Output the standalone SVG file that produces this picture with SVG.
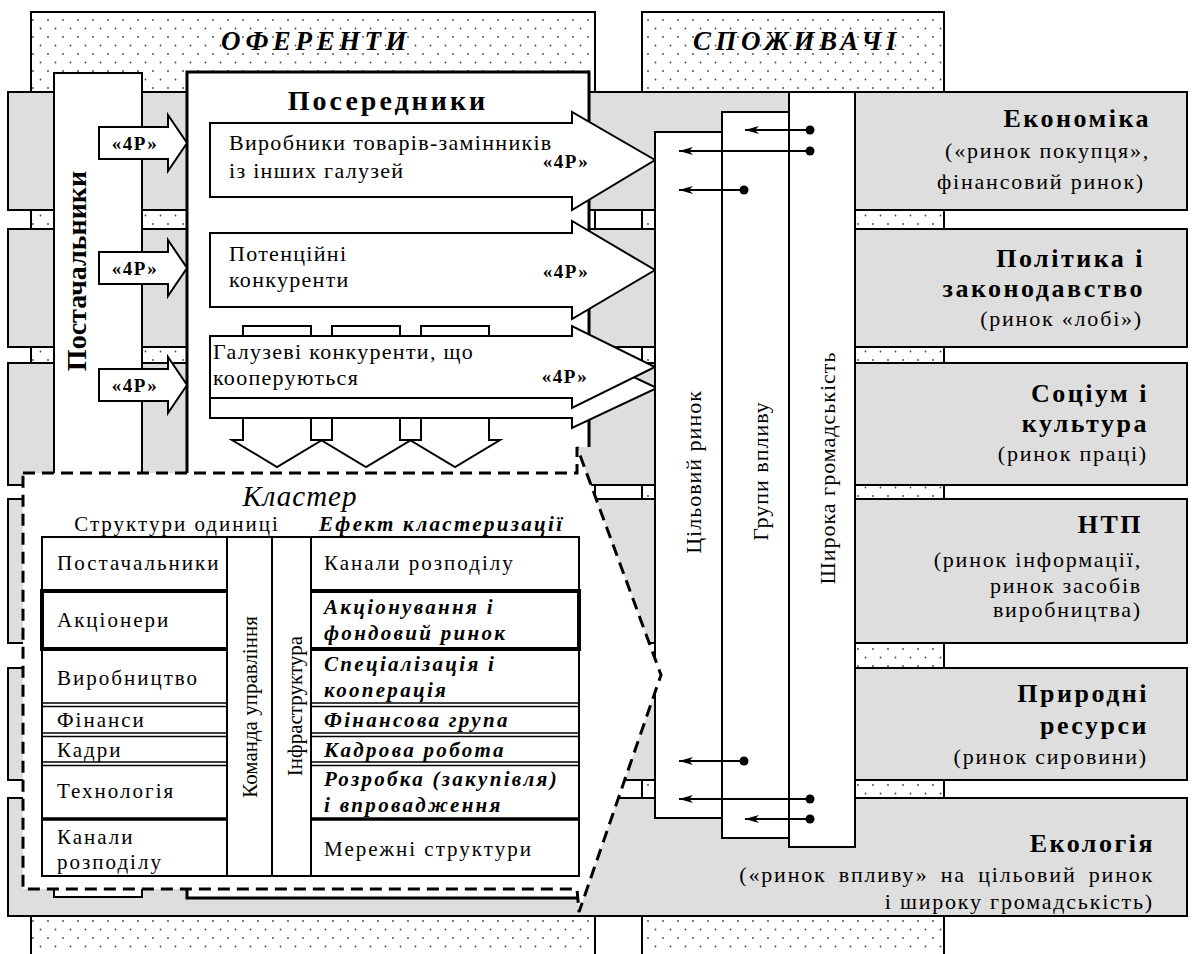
<svg xmlns="http://www.w3.org/2000/svg" width="1192" height="954" viewBox="0 0 1192 954" font-family="'Liberation Serif', Tinos, 'Times New Roman', 'DejaVu Serif', serif">
<defs>
<pattern id="dots" width="15" height="17" patternUnits="userSpaceOnUse">
<rect width="15" height="17" fill="#fff"/>
<circle cx="3" cy="3" r="0.9" fill="#444"/>
<circle cx="10.5" cy="11.5" r="0.9" fill="#444"/>
</pattern>
<marker id="ah" markerWidth="16" markerHeight="10" refX="14" refY="4" orient="auto" markerUnits="userSpaceOnUse">
<path d="M0,0 L14,4 L0,8 L4,4 Z" fill="#000"/>
</marker>
<style>
text{font-family:'Liberation Serif', Tinos, 'Times New Roman', 'DejaVu Serif', serif;fill:#000}
.ttl{font-size:27px;font-weight:bold;font-style:italic;letter-spacing:4.5px}
.hd{font-size:26px;font-weight:bold;letter-spacing:2.5px}
.sub{font-size:22px;letter-spacing:1.8px}
.arr{font-size:22px;letter-spacing:1.3px}
.p4{font-size:19px;font-weight:bold;letter-spacing:1.5px}
.tb{font-size:21px;letter-spacing:2px}
.tbi{font-size:21px;font-weight:bold;font-style:italic;letter-spacing:2.3px}
.vt{font-size:21px}
.col{font-size:22px;letter-spacing:1px}
.band{fill:#dedede;stroke:#000;stroke-width:2}
.wb{fill:#fff;stroke:#000;stroke-width:2}
.ln{stroke:#000;stroke-width:2;fill:none}
.thick{stroke:#000;stroke-width:4;fill:none}
.conn{stroke:#000;stroke-width:2;fill:none;marker-end:url(#ah)}
</style>
</defs>

<g id="panels">
<rect x="31" y="12" width="564" height="960" fill="url(#dots)" stroke="#000" stroke-width="2"/>
<rect x="642" y="12" width="302" height="960" fill="url(#dots)" stroke="#000" stroke-width="2"/>
<text class="ttl" x="316" y="50" text-anchor="middle">ОФЕРЕНТИ</text>
<text class="ttl" x="797" y="50" text-anchor="middle">СПОЖИВАЧІ</text>
</g>

<g id="bands">
<rect class="band" x="8" y="92" width="1179" height="118"/>
<rect class="band" x="8" y="229" width="1179" height="118"/>
<rect class="band" x="8" y="363" width="1179" height="122"/>
<rect class="band" x="8" y="499" width="1179" height="144"/>
<rect class="band" x="8" y="668" width="1179" height="112"/>
<rect class="band" x="8" y="798" width="1179" height="118"/>
</g>

<g id="postachalnyky">
<rect class="wb" x="54" y="73" width="88" height="824"/>
<text transform="translate(86,271) rotate(-90)" text-anchor="middle" style="font-size:28px;font-weight:bold">Постачальники</text>
</g>

<g id="poserednyky">
<path d="M187,72 H589 V447 H577 L579,898 H187 Z" fill="#fff"/>
<path d="M589,447 V72 H187 V898 H578" fill="none" stroke="#000" stroke-width="3"/>
<text x="388" y="110" text-anchor="middle" style="font-size:28px;font-weight:bold;letter-spacing:3px">Посередники</text>
</g>

<g id="down-arrows">
<path class="wb" d="M243,326 H311 V440 H322 L277,467 L232,440 H243 Z"/>
<path class="wb" d="M332,326 H400 V440 H411 L366,467 L321,440 H332 Z"/>
<path class="wb" d="M421,326 H489 V440 H500 L455,467 L410,440 H421 Z"/>
</g>

<g id="arrow-vyrobnyky">
<path class="wb" d="M210,123 H572 V112 L655,160 L572,210 V197 H210 Z"/>
<text class="arr" x="229" y="150">Виробники товарів-замінників</text>
<text class="arr" x="229" y="178">із інших галузей</text>
<text class="p4" x="566" y="168" text-anchor="middle">«4Р»</text>
</g>

<g id="arrow-potentsiini">
<path class="wb" d="M210,233 H572 V221 L655,270 L572,319 V307 H210 Z"/>
<text class="arr" x="229" y="261">Потенційні</text>
<text class="arr" x="229" y="287">конкуренти</text>
<text class="p4" x="566" y="278" text-anchor="middle">«4Р»</text>
</g>

<g id="arrow-haluzevi">
<path class="wb" d="M210,358 H572 V348 L657,388 L572,428 V418 H210 Z"/>
<path class="wb" d="M210,336 H572 V326 L655,367 L572,408 V398 H210 Z"/>
<text class="arr" x="213" y="359">Галузеві конкуренти, що</text>
<text class="arr" x="213" y="385">кооперуються</text>
<text class="p4" x="565" y="383" text-anchor="middle">«4Р»</text>
</g>

<g id="small-4p">
<path class="wb" d="M99,127 H168 V115 L187,143 L168,171 V159 H99 Z"/>
<text class="p4" x="135" y="150" text-anchor="middle">«4Р»</text>
<path class="wb" d="M99,252 H168 V240 L187,268 L168,296 V284 H99 Z"/>
<text class="p4" x="135" y="275" text-anchor="middle">«4Р»</text>
<path class="wb" d="M99,369 H168 V357 L187,385 L168,413 V401 H99 Z"/>
<text class="p4" x="135" y="392" text-anchor="middle">«4Р»</text>
</g>

<g id="columns">
<rect class="wb" x="789" y="92" width="66" height="755"/>
<rect class="wb" x="722" y="112" width="67" height="726"/>
<rect class="wb" x="655" y="132" width="67" height="686"/>
<text class="col" transform="translate(701,472) rotate(-90)" text-anchor="middle">Цільовий ринок</text>
<text class="col" transform="translate(768,471) rotate(-90)" text-anchor="middle">Групи впливу</text>
<text class="col" transform="translate(835,468) rotate(-90)" text-anchor="middle">Широка громадськість</text>
</g>

<g id="band-labels">
<text class="hd" x="1151" y="127" text-anchor="end">Економіка</text>
<text class="sub" x="1150" y="158" text-anchor="end">(«ринок покупця»,</text>
<text class="sub" x="1145" y="189" text-anchor="end">фінансовий ринок)</text>
<text class="hd" x="1145" y="267" text-anchor="end">Політика і</text>
<text class="hd" x="1145" y="297" text-anchor="end">законодавство</text>
<text class="sub" x="1143" y="326" text-anchor="end">(ринок «лобі»)</text>
<text class="hd" x="1149" y="402" text-anchor="end">Соціум і</text>
<text class="hd" x="1149" y="432" text-anchor="end">культура</text>
<text class="sub" x="1148" y="461" text-anchor="end">(ринок праці)</text>
<text class="hd" x="1143" y="533" text-anchor="end">НТП</text>
<text class="sub" x="1142" y="567" text-anchor="end">(ринок інформації,</text>
<text class="sub" x="1142" y="593" text-anchor="end">ринок засобів</text>
<text class="sub" x="1142" y="617" text-anchor="end">виробництва)</text>
<text class="hd" x="1149" y="702" text-anchor="end">Природні</text>
<text class="hd" x="1149" y="734" text-anchor="end">ресурси</text>
<text class="sub" x="1148" y="764" text-anchor="end">(ринок сировини)</text>
<text class="hd" x="1155" y="852" text-anchor="end">Екологія</text>
<text class="sub" x="1154" y="882" text-anchor="end" style="word-spacing:5px">(«ринок впливу» на цільовий ринок</text>
<text class="sub" x="1154" y="909" text-anchor="end">і широку громадськість)</text>
</g>

<g id="cluster">
<path d="M23,473 H577 V447 L661,675 L579,912 L577,889 H23 Z" fill="#fff" stroke="#000" stroke-width="3" stroke-dasharray="12 7"/>
<text x="300" y="506" text-anchor="middle" style="font-size:29px;font-style:italic;letter-spacing:1px">Кластер</text>
<text class="tb" x="177" y="531" text-anchor="middle">Структури одиниці</text>
<text class="tbi" x="319" y="531">Ефект кластеризації</text>
<rect x="42" y="537" width="537" height="339" fill="#fff" stroke="#000" stroke-width="2"/>
<line class="ln" x1="227" y1="537" x2="227" y2="876"/>
<line class="ln" x1="272" y1="537" x2="272" y2="876"/>
<line class="ln" x1="311" y1="537" x2="311" y2="876"/>
<path class="thick" d="M227,591 H42 V649 H227 M311,591 H579 V649 H311"/>
<path d="M42,703 H227 M42,706.5 H227 M311,703 H579 M311,706.5 H579 M42,733 H227 M42,736.5 H227 M311,733 H579 M311,736.5 H579 M42,762 H227 M42,765.5 H227 M311,762 H579 M311,765.5 H579" stroke="#000" stroke-width="1.6" fill="none"/>
<path d="M42,819 H227 M311,819 H579" stroke="#000" stroke-width="3.5" fill="none"/>
<text class="tb" x="57" y="570">Постачальники</text>
<text class="tb" x="57" y="627">Акціонери</text>
<text class="tb" x="57" y="685">Виробництво</text>
<text class="tb" x="57" y="727">Фінанси</text>
<text class="tb" x="57" y="757">Кадри</text>
<text class="tb" x="57" y="798">Технологія</text>
<text class="tb" x="57" y="844">Канали</text>
<text class="tb" x="57" y="869">розподілу</text>
<text class="vt" transform="translate(257,707) rotate(-90)" text-anchor="middle">Команда управління</text>
<text class="vt" transform="translate(302,706) rotate(-90)" text-anchor="middle">Інфраструктура</text>
<text class="tb" x="324" y="570">Канали розподілу</text>
<text class="tbi" x="324" y="614">Акціонування і</text>
<text class="tbi" x="324" y="640">фондовий ринок</text>
<text class="tbi" x="324" y="671">Спеціалізація і</text>
<text class="tbi" x="324" y="697">кооперація</text>
<text class="tbi" x="324" y="727">Фінансова група</text>
<text class="tbi" x="324" y="757">Кадрова робота</text>
<text class="tbi" x="324" y="786">Розробка (закупівля)</text>
<text class="tbi" x="324" y="812">і впровадження</text>
<text class="tb" x="324" y="856">Мережні структури</text>
</g>

<g id="connectors">
<line class="conn" x1="810" y1="130" x2="745" y2="130"/>
<circle cx="810" cy="130" r="4.5"/>
<line class="conn" x1="810" y1="151" x2="679" y2="151"/>
<circle cx="810" cy="151" r="4.5"/>
<line class="conn" x1="744" y1="190" x2="679" y2="190"/>
<circle cx="744" cy="190" r="4.5"/>
<line class="conn" x1="744" y1="761" x2="679" y2="761"/>
<circle cx="744" cy="761" r="4.5"/>
<line class="conn" x1="810" y1="799" x2="679" y2="799"/>
<circle cx="810" cy="799" r="4.5"/>
<line class="conn" x1="810" y1="819" x2="745" y2="819"/>
<circle cx="810" cy="819" r="4.5"/>
</g>
</svg>
